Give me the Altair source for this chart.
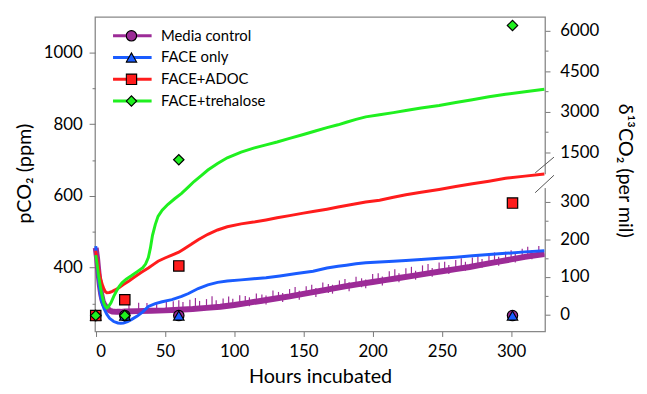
import altair as alt
import pandas as pd

series_names = ["Media control", "FACE only", "FACE+ADOC", "FACE+trehalose"]
marker_keys = ["m:" + s for s in series_names]
line_colors = ["#9c2b97", "#1a5cff", "#ff1c1c", "#1ff01f"]
marker_shapes = ["circle", "triangle-up", "square", "diamond"]
marker_edges = ["black", "black", "black", "black"]

# pCO2 (ppm) time series (media control: centre of its noisy band)
media_t = [0, 1, 2, 3, 4, 5, 6, 8, 10, 12, 15, 18, 21, 30, 40, 50, 60, 70, 80, 90, 100, 110,
           120, 130, 140, 150, 160, 170, 180, 190, 200, 210, 220, 230, 240, 250, 260, 270, 280,
           290, 300, 310, 320, 324]
media_p = [455, 425, 385, 350, 325, 308, 298, 287, 281, 278, 277, 277, 278, 279, 280, 281, 283,
           285, 288, 291, 296, 302, 308, 314, 320, 327, 334, 341, 348, 354, 360, 366, 372, 378,
           384, 390, 396, 402, 409, 416, 423, 430, 436, 438]
# media control noise spikes (spike centres)
spike_t = [24, 31, 37, 44, 51, 56, 60, 63, 68, 72, 75, 80, 84, 87, 92, 96, 99, 104, 108, 111,
           116, 120, 123, 128, 132, 135, 140, 144, 147, 152, 156, 159, 164, 168, 171, 176, 180,
           183, 188, 192, 195, 200, 204, 207, 212, 216, 219, 224, 228, 231, 236, 240, 243, 248,
           252, 255, 260, 264, 267, 272, 276, 279, 284, 288, 291, 296, 300, 303, 308, 312, 315,
           320]
spike_p = [289, 290, 289, 291, 292, 294, 297, 292, 298, 303, 295, 300, 308, 297, 302, 307, 301,
           311, 309, 305, 316, 313, 310, 324, 320, 317, 328, 334, 323, 336, 340, 331, 346, 342,
           340, 352, 356, 347, 362, 358, 355, 370, 372, 363, 378, 383, 372, 386, 390, 379, 394,
           398, 387, 402, 404, 395, 409, 414, 404, 416, 420, 412, 424, 430, 418, 432, 436, 427,
           440, 446, 436, 448]

face_t = [0, 1, 2, 3, 4, 6, 8, 10, 13, 16, 18, 20, 23, 26, 30, 34, 38, 43, 48, 55, 62, 67, 74,
          81, 88, 95, 105, 114, 123, 133, 145, 157, 167, 175, 181, 188, 195, 205, 215, 224,
          235, 248, 260, 272, 284, 296, 310, 324]
face_p = [460, 420, 370, 335, 310, 286, 270, 259, 250, 246, 245, 246, 250, 256, 265, 277, 292,
          300, 305, 311, 320, 328, 342, 352, 359, 363, 366, 369, 372, 377, 384, 390, 399, 404,
          407, 411, 414, 416, 418, 420, 423, 426, 429, 433, 437, 440, 444, 447]

adoc_t = [0, 1, 2, 3, 4, 5, 6, 7, 8, 10, 12, 14, 17, 20, 24, 28, 33, 38, 42, 45, 50, 55, 60,
          64, 69, 74, 81, 88, 95, 105, 114, 123, 131, 140, 150, 158, 167, 175, 181, 188, 195,
          205, 215, 224, 235, 248, 260, 272, 284, 296, 310, 324]
adoc_p = [447, 425, 400, 378, 362, 350, 340, 333, 330, 331, 334, 338, 345, 353, 363, 374, 387,
          399, 410, 418, 427, 435, 443, 453, 465, 478, 493, 505, 514, 522, 527, 533, 539, 545,
          552, 557, 563, 569, 573, 578, 583, 588, 596, 603, 610, 618, 626, 634, 641, 649, 655, 661]

treh_t = [0, 1, 2, 3, 4, 5, 6, 7, 8, 9, 11, 13, 15, 17, 19, 22, 26, 30, 34, 36, 38, 39.5, 41,
          43, 45, 48, 52, 57, 62, 67, 71, 76, 81, 88, 95, 105, 114, 123, 131, 140, 150, 158,
          167, 175, 181, 188, 195, 205, 215, 224, 235, 248, 260, 272, 284, 296, 310, 324]
treh_p = [435, 410, 380, 355, 333, 315, 300, 292, 288, 290, 302, 320, 335, 348, 358, 368, 378,
          389, 400, 410, 428, 455, 490, 520, 543, 560, 576, 592, 607, 625, 640, 656, 672, 690,
          706, 722, 733, 742, 750, 760, 771, 780, 790, 798, 805, 813, 820, 826, 832, 838, 845,
          852, 860, 868, 876, 883, 890, 897]

# delta13C (per mil) discrete samples
pt_series = ["Media control", "FACE only", "FACE+ADOC", "FACE+trehalose",
             "Media control", "FACE only", "FACE+ADOC", "FACE+trehalose",
             "Media control", "FACE only", "FACE+ADOC", "FACE+trehalose",
             "Media control", "FACE only", "FACE+ADOC", "FACE+trehalose"]
pt_t = [0, 0, 0, 0, 21, 21, 21, 21, 60, 60, 60, 60, 301, 301, 301, 301]
pt_d = [-3, -3, -3, -3, -3, -3, 39, -3, -3, -3, 129, 1221, -3, -3, 296, 6200]

rows = []
for name, ts, ps in [("Media control", media_t, media_p), ("FACE only", face_t, face_p),
                     ("FACE+ADOC", adoc_t, adoc_p), ("FACE+trehalose", treh_t, treh_p)]:
    for t, p in zip(ts, ps):
        rows.append({"series": name, "t": t, "ppm": p})
df_lines = pd.DataFrame(rows)
df_media = pd.DataFrame({"t": media_t, "ppm": media_p})
df_spikes = pd.DataFrame({"t": spike_t, "ppm": spike_p})
df_pts = pd.DataFrame({"series": pt_series, "t": pt_t, "delta": pt_d,
                       "mkey": ["m:" + s for s in pt_series]})
df_one = pd.DataFrame({"a": [0]})

FONT = "Lato"
x_enc = alt.X("t:Q", scale=alt.Scale(domain=[-0.5, 324.5], nice=False, zero=False),
              axis=alt.Axis(values=[0, 50, 100, 150, 200, 250, 300], tickSize=5, labelPadding=7,
                            title="Hours incubated", titleY=52, titleBaseline="alphabetic"))

left_scale = alt.Scale(domain=[222.2, 1098.3], nice=False, zero=False)
right_scale = alt.Scale(domain=[-45.4, 349, 976, 6513], range=[318, 168, 151, 0],
                        nice=False, zero=False)

line_legend = alt.Legend(title=None, orient="none", legendX=16.7, legendY=11, padding=0,
                         symbolType="stroke", symbolSize=1521, symbolStrokeWidth=3,
                         clipHeight=16, rowPadding=6, labelOffset=8, labelFont=FONT,
                         labelFontSize=15, labelColor="black")
pt_legend = alt.Legend(title=None, orient="none", legendX=30.8, legendY=11, padding=0,
                       symbolSize=110, symbolOpacity=1, symbolStrokeColor="black",
                       symbolStrokeWidth=1.2, clipHeight=16, rowPadding=6, labelExpr="''")

gap = alt.Chart(df_one).mark_rule(color="white", strokeWidth=4).encode(
    x=alt.value(455), y=alt.value(159), y2=alt.value(173))

band = alt.Chart(df_media).mark_line(strokeWidth=6, color=line_colors[0]).encode(
    x=x_enc,
    y=alt.Y("ppm:Q", scale=left_scale, axis=None),
)

spikes = alt.Chart(df_spikes).mark_tick(orient="vertical", size=9, thickness=1.2,
                                        color=line_colors[0], opacity=1).encode(
    x=x_enc,
    y=alt.Y("ppm:Q", scale=left_scale, axis=None),
)

lines = alt.Chart(df_lines).mark_line(strokeWidth=3).encode(
    x=x_enc,
    y=alt.Y("ppm:Q", scale=left_scale,
            axis=alt.Axis(orient="left", values=[400, 600, 800, 1000], format="d", tickSize=6,
                          labelPadding=7, title="pCO₂ (ppm)", titleX=-71, titleY=158,
                          titleAngle=270, titleAlign="center", titleBaseline="middle")),
    color=alt.Color("series:N", scale=alt.Scale(domain=series_names, range=line_colors),
                    legend=line_legend),
)

minor_left = alt.Chart(df_lines).mark_point(opacity=0).encode(
    x=x_enc,
    y=alt.Y("ppm:Q", scale=left_scale,
            axis=alt.Axis(orient="left", values=[300, 500, 700, 900], labels=False, tickSize=3,
                          title=None)),
)

points = alt.Chart(df_pts).mark_point(filled=True, strokeWidth=1.2, size=110,
                                      opacity=1).encode(
    x=x_enc,
    y=alt.Y("delta:Q", scale=right_scale,
            axis=alt.Axis(orient="right", values=[0, 100, 200, 300, 1500, 3000, 4500, 6000],
                          format="d", tickSize=5, labelPadding=10,
                          title="δ¹³CO₂ (per mil)", titleX=80, titleY=155, titleAngle=90,
                          titleAlign="center", titleBaseline="middle")),
    fill=alt.Fill("mkey:N", scale=alt.Scale(domain=marker_keys, range=line_colors),
                  legend=pt_legend),
    shape=alt.Shape("mkey:N", scale=alt.Scale(domain=marker_keys, range=marker_shapes),
                    legend=pt_legend),
    stroke=alt.Stroke("mkey:N", scale=alt.Scale(domain=marker_keys, range=marker_edges),
                      legend=pt_legend),
)

minor_right = alt.Chart(df_pts).mark_point(opacity=0).encode(
    x=x_enc,
    y=alt.Y("delta:Q", scale=right_scale,
            axis=alt.Axis(orient="right", values=[50, 150, 250, 2250, 3750, 5250], labels=False,
                          tickSize=3, title=None)),
)

slash1 = alt.Chart(df_one).mark_rule(color="#555", strokeWidth=1).encode(
    x=alt.value(445), y=alt.value(157.7), x2=alt.value(464), y2=alt.value(141.7))
slash2 = alt.Chart(df_one).mark_rule(color="#555", strokeWidth=1).encode(
    x=alt.value(445), y=alt.value(177.7), x2=alt.value(464), y2=alt.value(160))

chart = alt.layer(gap, band, spikes, lines, minor_left, points, minor_right, slash1,
                  slash2).resolve_scale(
    y="independent"
).properties(
    width=455, height=318, autosize="none",
    padding={"left": 88, "top": 7, "right": 95, "bottom": 53},
).configure_axis(
    labelFont=FONT, labelFontSize=17, labelColor="black", tickColor="#777",
    titleFont=FONT, titleFontSize=20, titleFontWeight="normal", titleColor="black",
    grid=False, domain=False,
).configure_view(stroke="#888", strokeWidth=1.3)

chart.save("out.html", embed_options={"renderer": "svg", "actions": False})
